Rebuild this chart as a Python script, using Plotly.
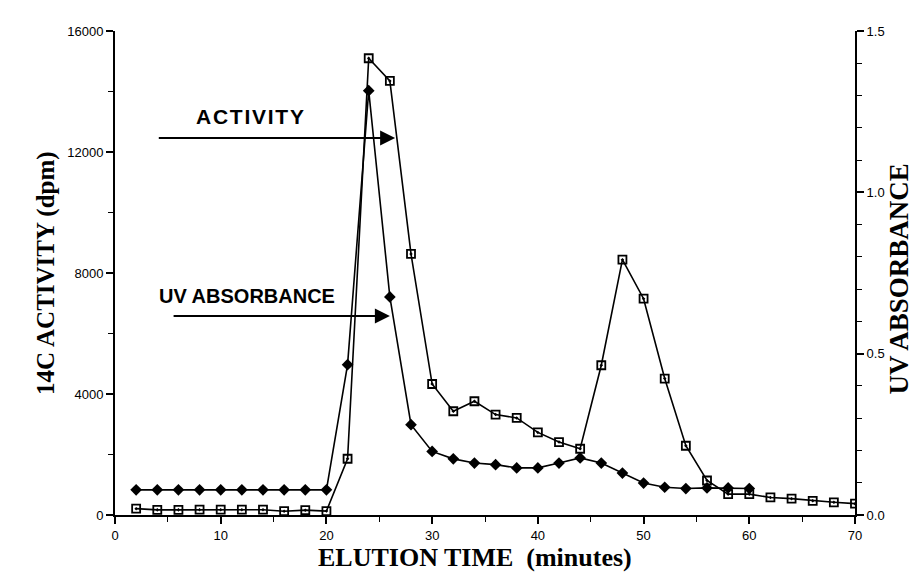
import plotly.graph_objects as go

# Elution time (minutes)
time_act = [2, 4, 6, 8, 10, 12, 14, 16, 18, 20, 22, 24, 26, 28, 30, 32, 34, 36, 38, 40,
            42, 44, 46, 48, 50, 52, 54, 56, 58, 60, 62, 64, 66, 68, 70]
# 14C activity (dpm) - open squares, left axis
activity = [210, 170, 170, 175, 175, 175, 175, 125, 160, 130, 1860, 15100, 14350, 8630, 4330,
            3430, 3760, 3320, 3210, 2730, 2410, 2190, 4950, 8440, 7150, 4510, 2290, 1140,
            690, 690, 580, 540, 470, 420, 375]

time_uv = [2, 4, 6, 8, 10, 12, 14, 16, 18, 20, 22, 24, 26, 28, 30, 32, 34, 36, 38, 40,
           42, 44, 46, 48, 50, 52, 54, 56, 58, 60]
# UV absorbance - filled diamonds, right axis
uv_abs = [0.078, 0.078, 0.078, 0.078, 0.078, 0.078, 0.078, 0.078, 0.078, 0.078,
          0.466, 1.315, 0.676, 0.280, 0.197, 0.174, 0.161, 0.156, 0.146, 0.146,
          0.161, 0.177, 0.161, 0.130, 0.099, 0.086, 0.082, 0.084, 0.084, 0.082]

x_ticks = [0, 10, 20, 30, 40, 50, 60, 70]
y_left_ticks = [0, 4000, 8000, 12000, 16000]
y_left_labels = ["0", "4000", "8000", "12000", "16000"]
y_right_ticks = [0.0, 0.5, 1.0, 1.5]
y_right_labels = ["0.0", "0.5", "1.0", "1.5"]

SANS = "Liberation Sans, Arial, Helvetica, sans-serif"
SERIF = "Liberation Serif, Times New Roman, serif"

fig = go.Figure()
fig.add_trace(go.Scatter(
    x=time_uv, y=uv_abs, yaxis="y2", mode="lines+markers",
    line=dict(color="black", width=1.6),
    marker=dict(symbol="diamond", size=9, color="black"),
    showlegend=False))
fig.add_trace(go.Scatter(
    x=time_act, y=activity, mode="lines+markers",
    line=dict(color="black", width=1.6),
    marker=dict(symbol="square-open-dot", size=8, color="black",
                line=dict(color="black", width=1.8)),
    showlegend=False))

axis_common = dict(showline=True, linecolor="black", linewidth=2, ticks="outside",
                   ticklen=7, tickwidth=1.5, tickcolor="black", showgrid=False,
                   zeroline=False, tickfont=dict(family=SANS, size=13, color="black"))

fig.update_layout(
    width=922, height=578,
    margin=dict(l=107, r=75, t=23, b=71),
    paper_bgcolor="white", plot_bgcolor="white",
    xaxis=dict(range=[0, 70], tickvals=x_ticks, **axis_common,
               minor=dict(ticks="outside", dtick=5, ticklen=5, tickwidth=1.2, tickcolor="black")),
    yaxis=dict(range=[0, 16000], tickvals=y_left_ticks, ticktext=y_left_labels, **axis_common,
               minor=dict(ticks="outside", dtick=2000, ticklen=5, tickwidth=1.2, tickcolor="black")),
    yaxis2=dict(range=[0, 1.5], tickvals=y_right_ticks, ticktext=y_right_labels,
                overlaying="y", side="right", **axis_common,
                minor=dict(ticks="outside", dtick=0.1, ticklen=5, tickwidth=1.2, tickcolor="black")),
)

annotations = [
    # axis titles
    dict(text="14C ACTIVITY (dpm)", xref="paper", yref="paper", x=-0.115, y=0.5,
         textangle=-90, showarrow=False, font=dict(family=SERIF, size=25, color="black", weight="bold")),
    dict(text="UV ABSORBANCE", xref="paper", yref="paper", x=1.082, y=0.488,
         textangle=-90, showarrow=False, font=dict(family=SERIF, size=27, color="black", weight="bold")),
    dict(text="ELUTION TIME  (minutes)", xref="paper", yref="paper", x=0.487, y=-0.121,
         showarrow=False, font=dict(family=SERIF, size=26, color="black", weight="bold")),
    # labels
    dict(text="A\u200aC\u200aT\u200aI\u200aV\u200aI\u200aT\u200aY", x=12.77, y=13190, xref="x", yref="y",
         showarrow=False, font=dict(family=SANS, size=21, color="black", weight="bold")),
    dict(text="UV ABSORBANCE", x=12.53, y=7240, xref="x", yref="y",
         showarrow=False, font=dict(family=SANS, size=20, color="black", weight="bold")),
    # arrows
    dict(text="", x=26.5, y=12463, ax=4.0, ay=12463, xref="x", yref="y", axref="x", ayref="y",
         showarrow=True, arrowhead=2, arrowsize=1.5, arrowwidth=2, arrowcolor="black"),
    dict(text="", x=26.0, y=6578, ax=5.4, ay=6578, xref="x", yref="y", axref="x", ayref="y",
         showarrow=True, arrowhead=2, arrowsize=1.5, arrowwidth=2, arrowcolor="black"),
]
fig.update_layout(annotations=annotations)

fig.write_html("out.html")
